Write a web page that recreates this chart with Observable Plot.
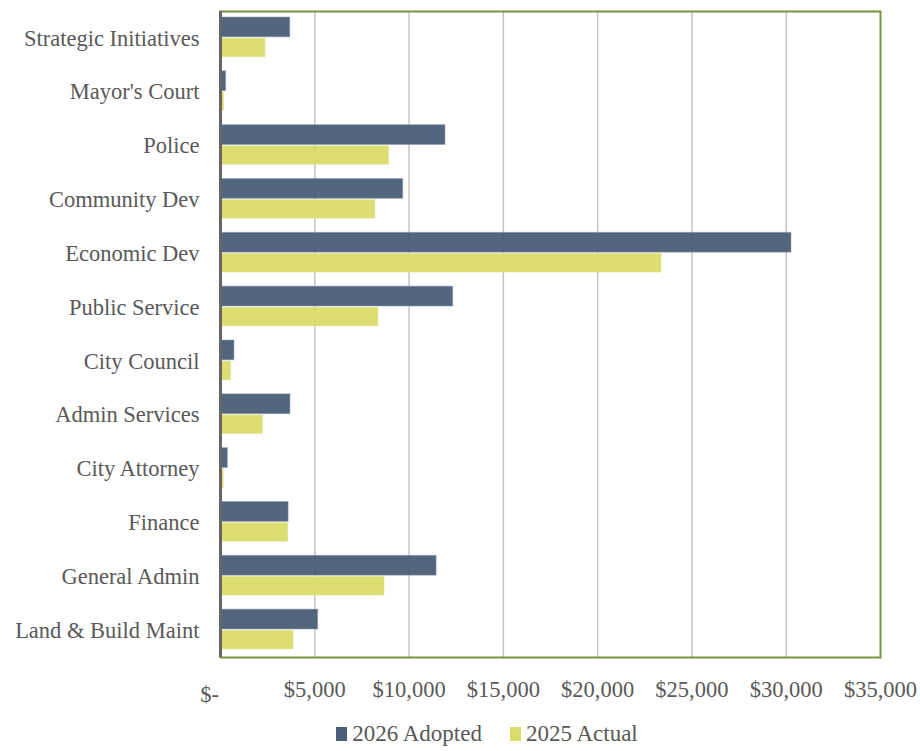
<!DOCTYPE html>
<html>
<head>
<meta charset="utf-8">
<script src="https://cdn.jsdelivr.net/npm/d3@7"></script>
<script src="https://cdn.jsdelivr.net/npm/@observablehq/plot@0.6"></script>
<style>
  html, body { margin: 0; padding: 0; background: #fff; }
  #wrap { width: 920px; height: 751px; position: relative; font-family: 'Liberation Serif', 'DejaVu Serif', serif; }
  #chart { position: absolute; left: 0; top: 0; }
  #legend { position: absolute; left: 0; width: 920px; top: 721px; display: flex; justify-content: center; font-size: 23px; color: #595959; padding-left: 54px; box-sizing: border-box; }
  .item { display: flex; align-items: center; }
  .sw { width: 11px; height: 14px; margin-right: 5px; display: inline-block; }
</style>
</head>
<body>
<div id="wrap"><div id="chart"></div><div id="legend"></div></div>
<script>
const categories = ["Strategic Initiatives", "Mayor's Court", "Police", "Community Dev", "Economic Dev", "Public Service", "City Council", "Admin Services", "City Attorney", "Finance", "General Admin", "Land & Build Maint"];
const adopted2026 = [3700, 300, 11930, 9690, 30280, 12340, 740, 3710, 390, 3610, 11460, 5180];
const actual2025 = [2390, 200, 8950, 8220, 23390, 8380, 570, 2260, 180, 3600, 8700, 3890];
const seriesNames = ["2026 Adopted", "2025 Actual"];
const seriesColors = ["#4B5E76", "#DADC6A"];
const xTicks = [0, 5000, 10000, 15000, 20000, 25000, 30000, 35000];

const rows = [];
categories.forEach((c, i) => {
  rows.push({category: c, series: seriesNames[0], value: adopted2026[i]});
  rows.push({category: c, series: seriesNames[1], value: actual2025[i]});
});

const fmt = d => d === 0 ? "$-" : "$" + d3.format(",")(d);
const FONT = "'Liberation Serif', 'DejaVu Serif', serif";

const chart = Plot.plot({
  width: 920,
  height: 718,
  marginLeft: 220,
  marginRight: 40,
  marginTop: 11,
  marginBottom: 61,
  style: {fontFamily: FONT, color: "#595959", background: "transparent"},
  x: {domain: [0, 35000]},
  y: {domain: categories, padding: 0, round: false},
  marks: [
    Plot.gridX(xTicks.slice(1, -1), {stroke: "#c4c4c4", strokeOpacity: 1, strokeWidth: 1.5}),
    Plot.barX(rows.filter(d => d.series === seriesNames[0]), {x: "value", y: "category", fill: seriesColors[0], fillOpacity: 0.95, stroke: "#8a9ab0", strokeOpacity: 0.5, strokeWidth: 1, insetTop: 6, insetBottom: 28}),
    Plot.barX(rows.filter(d => d.series === seriesNames[1]), {x: "value", y: "category", fill: seriesColors[1], fillOpacity: 0.95, stroke: "#eeeeb0", strokeOpacity: 0.5, strokeWidth: 1, insetTop: 27, insetBottom: 8}),
    Plot.frame({stroke: "#77933C", strokeWidth: 2}),
    Plot.ruleX([0], {stroke: "#666666", strokeWidth: 3}),
    Plot.axisY({tickSize: 0, tickPadding: 21, fontSize: 22.5, fontFamily: FONT, fill: "#595959", label: null}),
    Plot.axisX({ticks: xTicks.slice(1), tickFormat: fmt, tickSize: 0, tickPadding: 24, fontSize: 22.5, fontFamily: FONT, fill: "#595959", label: null}),
    Plot.axisX({ticks: [0], tickFormat: fmt, tickSize: 0, tickPadding: 29, dx: -11, fontSize: 22.5, fontFamily: FONT, fill: "#595959", label: null})
  ]
});
document.getElementById("chart").appendChild(chart);

const legend = document.getElementById("legend");
seriesNames.forEach((s, i) => {
  const it = document.createElement("div");
  it.className = "item";
  if (i > 0) it.style.marginLeft = "28px";
  const sw = document.createElement("span");
  sw.className = "sw";
  sw.style.background = seriesColors[i];
  it.appendChild(sw);
  const t = document.createElement("span");
  t.textContent = s;
  it.appendChild(t);
  legend.appendChild(it);
});
</script>
</body>
</html>
